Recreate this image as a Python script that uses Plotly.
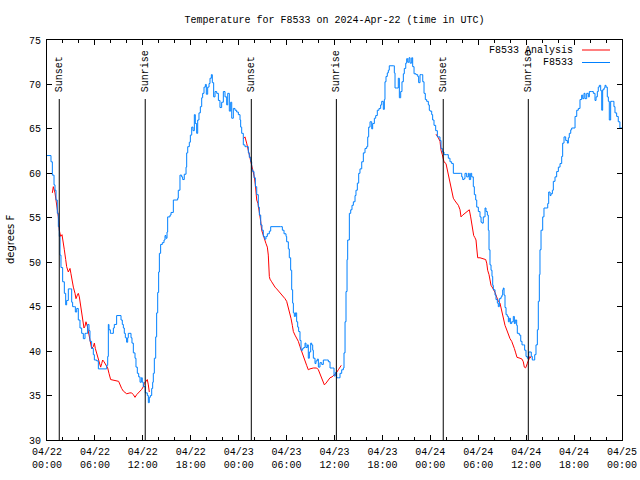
import pandas as pd
import plotly.graph_objects as go

BASE = pd.Timestamp("2024-04-22 00:00")

# hours since 2024-04-22 00:00 UTC, temperature in deg F
obs_hours = [0.0, 0.50, 0.67, 0.88, 1.0, 1.13, 1.29, 1.42, 1.54, 1.63, 1.75, 1.96, 2.17, 2.34, 2.46, 2.67, 2.97,
             3.09, 3.21, 3.42, 3.55, 3.72, 3.92, 4.13, 4.34, 4.55, 4.76, 4.97, 5.09, 5.26, 5.38, 5.59, 5.80,
             5.93, 6.22, 6.43, 7.39, 7.47, 7.60, 7.68, 7.76, 7.93, 8.10, 8.31, 8.43, 8.64, 8.72, 9.14, 9.27,
             9.43, 9.56, 9.68, 9.81, 9.97, 10.10, 10.18, 10.39, 10.52, 10.64, 10.81, 11.02, 11.14, 11.31,
             11.48, 11.65, 11.81, 11.93, 12.06, 12.31, 12.56, 12.69, 12.81, 12.94, 13.11, 13.23, 13.31,
             13.44, 13.61, 13.73, 13.86, 13.98, 14.07, 14.23, 14.44, 14.65, 14.78, 14.90, 15.03, 15.11,
             15.40, 15.53, 15.82, 16.36, 16.44, 16.65, 16.86, 16.99, 17.19, 17.41, 17.49, 17.62, 17.82,
             17.95, 18.12, 18.28, 18.45, 18.57, 18.74, 18.87, 19.03, 19.20, 19.37, 19.49, 19.66, 19.83,
             19.95, 20.12, 20.29, 20.41, 20.58, 20.70, 20.87, 21.04, 21.25, 21.46, 21.66, 21.87, 22.08,
             22.29, 22.50, 22.63, 22.83, 23.00, 23.13, 23.33, 23.54, 23.75, 23.96, 24.17, 24.25, 24.38,
             24.58, 24.79, 25.0, 25.21, 25.33, 25.51, 25.63, 25.76, 25.92, 26.09, 26.26, 26.46, 26.59,
             26.76, 26.92, 27.09, 27.26, 27.42, 27.59, 27.84, 28.01, 29.26, 29.47, 29.68, 29.93, 30.01,
             30.22, 30.34, 30.51, 30.64, 30.76, 30.85, 30.97, 31.10, 31.26, 31.39, 31.51, 31.68, 31.81,
             32.01, 32.14, 32.31, 32.43, 32.60, 32.72, 32.85, 33.02, 33.14, 33.27, 33.35, 33.56, 33.68,
             33.85, 33.98, 34.18, 34.40, 34.60, 35.02, 35.23, 35.44, 35.77, 35.94, 36.10, 36.27, 36.52,
             36.69, 36.90, 37.11, 37.19, 37.32, 37.44, 37.57, 37.65, 37.86, 38.03, 38.19, 38.36, 38.57,
             38.69, 38.86, 39.03, 39.19, 39.41, 39.61, 39.82, 40.03, 40.16, 40.28, 40.45, 40.66, 40.78,
             40.99, 41.16, 41.36, 41.57, 41.78, 41.91, 42.11, 42.24, 42.32, 42.45, 42.61, 42.74, 42.86,
             43.36, 43.49, 43.58, 43.79, 43.99, 44.12, 44.29, 44.45, 44.62, 44.74, 44.92, 45.04, 45.17,
             45.33, 45.46, 45.67, 45.79, 45.96, 46.21, 46.42, 46.54, 46.71, 46.92, 47.05, 47.21, 47.37,
             47.54, 47.75, 47.87, 47.96, 48.17, 48.29, 48.46, 48.67, 48.88, 49.21, 49.34, 49.50, 49.71,
             50.05, 50.25, 50.46, 50.67, 50.88, 51.80, 51.93, 52.05, 52.22, 52.34, 52.55, 52.76, 52.88,
             53.05, 53.18, 53.38, 53.51, 53.68, 53.81, 54.01, 54.22, 54.35, 54.47, 54.63, 54.85, 54.97,
             55.14, 55.26, 55.35, 55.47, 55.60, 55.72, 55.81, 55.89, 56.10, 56.22, 56.39, 56.51, 56.64,
             56.85, 56.97, 57.06, 57.14, 57.23, 57.35, 57.48, 57.64, 57.77, 57.89, 58.02, 58.19, 58.39,
             58.52, 58.64, 58.81, 58.89, 59.14, 59.32, 59.48, 59.64, 59.81, 59.98, 60.14, 60.32, 60.48,
             60.64, 60.77, 60.94, 61.07, 61.23, 61.40, 61.52, 61.65, 61.73, 61.86, 62.07, 62.23, 62.48,
             62.70, 62.82, 62.99, 63.11, 63.28, 63.40, 63.61, 63.82, 64.03, 64.24, 64.45, 64.57, 64.74,
             64.95, 65.16, 65.28, 65.40, 65.58, 65.70, 65.99, 66.12, 66.33, 66.53, 66.74, 66.95, 67.08,
             67.24, 67.37, 67.58, 67.78, 67.91, 68.21, 68.41, 68.62, 68.75, 68.91, 69.03, 69.16, 69.33,
             69.46, 69.58, 69.75, 69.87, 70.00, 70.16, 70.29, 70.41, 70.58, 70.83, 70.99, 71.12, 71.33,
             71.53, 71.74, 72.0]
obs_temp = [62.0, 61.3, 59.8, 58.7, 58.1, 57.0, 55.5, 54.0, 52.9, 50.8, 49.4, 47.8, 46.5, 45.2, 45.7, 47.0, 47.0,
            45.5, 45.0, 45.0, 44.4, 44.8, 43.5, 42.6, 42.0, 41.4, 42.0, 42.0, 43.0, 42.3, 41.1, 40.3, 39.6,
            39.0, 38.9, 38.0, 38.0, 38.4, 39.4, 43.0, 42.4, 42.0, 42.0, 42.6, 43.0, 43.0, 44.0, 44.0, 43.5,
            43.0, 42.6, 42.0, 41.5, 41.0, 41.5, 42.0, 42.0, 41.5, 40.9, 39.8, 39.2, 38.2, 37.5,
            37.1, 36.5, 37.0, 36.5, 36.0, 35.3, 35.0, 34.2, 34.8, 35.0, 35.8, 36.5, 37.5,
            39.2, 41.6, 44.3, 46.6, 48.9, 51.0, 52.0, 52.2, 52.5, 53.0, 52.7, 53.4, 55.1,
            55.3, 55.6, 57.0, 57.2, 58.1, 59.8, 59.6, 59.3, 59.9, 60.7, 62.3, 63.0, 63.5,
            64.3, 65.2, 64.8, 66.6, 65.6, 64.5, 66.0, 66.8, 67.5, 68.5, 69.0, 69.7, 70.0,
            68.9, 69.7, 70.1, 70.7, 71.1, 70.2, 68.6, 69.2, 69.0, 68.2, 67.4, 68.0, 69.2,
            68.6, 67.7, 69.0, 67.0, 68.0, 66.2, 67.3, 67.1, 66.9, 66.6, 66.0, 65.2, 64.5,
            63.2, 63.0, 63.0, 62.3, 61.8, 61.3, 60.4, 60.2, 59.5, 58.5, 57.6, 56.2, 55.3,
            54.2, 53.6, 52.9, 52.6, 52.9, 53.2, 53.5, 54.0, 54.0, 53.6, 53.2, 52.9, 52.3,
            51.5, 50.5, 49.1, 46.9, 45.4, 44.3, 43.9, 44.3, 43.3, 42.7, 42.2, 41.2, 40.1,
            40.3, 40.4, 40.9, 40.4, 40.7, 39.2, 39.9, 40.9, 40.7, 40.1, 39.2, 38.6, 38.9,
            39.1, 38.2, 38.7, 38.5, 39.0, 39.0, 38.8, 38.1, 38.1, 37.2, 37.6, 37.0, 37.0,
            37.5, 37.9, 38.1, 39.8, 43.3, 46.7, 50.3, 52.5, 55.5, 55.9, 56.4, 56.8, 57.5,
            58.1, 58.9, 60.0, 60.5, 61.3, 62.3, 62.8, 63.0, 64.1, 65.2, 65.8, 65.0, 65.6,
            66.2, 66.5, 67.1, 67.3, 67.7, 68.1, 67.2, 68.3, 70.3, 70.9, 71.3, 71.6, 72.1,
            72.1, 71.3, 69.6, 69.6, 70.7, 68.5, 69.2, 70.3, 71.2, 71.8, 72.4, 72.9, 72.5,
            73.0, 72.4, 73.0, 72.0, 71.2, 71.1, 70.9, 70.2, 71.1, 71.1, 70.3, 69.0, 68.3,
            68.1, 67.7, 67.1, 67.0, 66.6, 66.0, 65.4, 64.8, 64.1, 63.7, 62.8, 62.4, 62.1,
            62.1, 61.7, 61.3, 61.1, 60.0, 60.0, 59.6, 59.3, 59.4, 60.0, 59.6, 60.0, 59.3,
            60.0, 59.6, 58.5, 57.6, 57.0, 56.2, 55.7, 55.1, 54.5, 54.4, 55.1, 56.1, 55.7,
            55.3, 53.6, 51.4, 49.7, 49.1, 48.4, 47.4, 46.9, 46.3, 45.8, 45.4, 45.0, 45.9,
            46.1, 46.3, 46.9, 47.1, 46.3, 44.9, 44.1, 43.9, 43.3, 43.7, 43.1, 43.3, 43.9,
            43.1, 43.5, 42.9, 42.0, 41.8, 41.1, 40.7, 40.7, 40.1, 39.4, 39.2, 39.9, 39.9,
            39.4, 39.0, 39.0, 39.6, 40.7, 42.4, 45.6, 48.6, 51.4, 53.6, 55.1, 56.1, 56.1,
            56.6, 57.9, 57.5, 57.7, 58.1, 59.1, 59.6, 60.2, 60.7, 61.1, 61.9, 63.4, 64.1,
            63.7, 63.4, 64.0, 64.5, 64.9, 65.1, 65.1, 66.4, 67.1, 67.3, 68.3, 68.8, 68.4,
            69.0, 68.4, 69.0, 68.6, 69.2, 69.2, 69.0, 68.2, 68.6, 69.2, 69.7, 69.9, 69.3,
            67.1, 69.4, 69.6, 69.9, 69.7, 68.6, 68.1, 66.0, 68.1, 68.1, 67.5, 66.8, 66.4,
            65.8, 65.1, 65.1]

# analysis series (None = gap between nightly runs)
ana_hours = [0.67, 0.79, 1.0, 1.21, 1.42, 1.54, 1.71, 1.88, 2.04, 2.17, 2.34, 2.46, 2.67, 2.88, 3.0, 3.13,
             3.30, 3.51, 3.63, 3.80, 3.92, 4.05, 4.21, 4.34, 4.46, 4.63, 4.76, 4.88, 5.05, 5.17, 5.38,
             5.59, 5.80, 5.93, 6.05, 6.22, 6.39, 6.55, 6.72, 6.85, 6.97, 7.14, 7.39, 7.60, 7.76, 7.97,
             8.97, 9.14, 9.35, 9.56, 9.77, 9.98, 10.39, 10.60, 10.81, 11.02, 11.23, 11.44, 11.65, 11.86,
             12.06, 12.18, 12.40, 12.56, 12.69, 12.81, None,
             24.58, 24.79, 25.0, 25.13, 25.33, 25.51, 25.67, 25.83, 25.96, 26.09, 26.26, 26.42, 26.59,
             26.76, 26.88, 27.01, 27.09, 27.30, 27.42, 27.59, 27.71, 27.84, 27.92, 28.13, 28.34, 28.55,
             28.76, 28.97, 29.18, 29.39, 29.59, 29.80, 30.01, 30.22, 30.43, 30.55, 30.72, 30.85, 31.05,
             31.26, 31.47, 31.68, 31.89, 32.10, 32.31, 32.51, 32.72, 32.93, 33.35, 33.77, 33.98, 34.18,
             34.40, 34.60, 34.73, 34.94, 35.23, 35.44, 35.69, 35.94, 36.19, 36.48, 36.69, 36.85, None,
             48.71, 48.88, 49.0, 49.21, 49.34, 49.50, 49.71, 49.96, 50.13, 50.25, 50.46, 50.67, 50.88,
             51.09, 51.30, 51.51, 51.72, 51.84, 52.05, 52.34, 52.55, 52.88, 53.05, 53.18, 53.30, 53.43,
             53.56, 53.72, 53.81, 53.93, 54.22, 54.63, 54.93, 55.06, 55.18, 55.35, 55.47, 55.60, 55.81,
             55.97, 56.10, 56.22, 56.39, 56.51, 56.72, 56.85, 57.01, 57.14, 57.35, 57.48, 57.64, 57.81,
             57.98, 58.19, 58.39, 58.52, 58.69, 58.85, 59.23, 59.48, 59.64, 59.77, 59.89, 59.98, 60.14,
             60.27, 60.48, 60.61]
ana_temp = [57.8, 58.5, 57.8, 56.6, 55.1, 53.6, 52.9, 53.1, 52.3, 51.4, 50.3, 49.5, 48.9, 49.3, 48.7, 48.0,
            47.2, 46.5, 45.9, 46.3, 46.5, 46.1, 45.0, 44.3, 43.3, 42.6, 42.8, 43.3, 42.8, 42.2, 41.2,
            40.3, 40.5, 40.9, 40.3, 39.8, 39.2, 38.6, 38.2, 38.6, 39.0, 38.8, 38.4, 38.1, 37.5, 36.8,
            36.6, 36.2, 35.8, 35.5, 35.3, 35.2, 35.3, 35.3, 35.1, 34.8, 35.1, 35.3, 35.4, 35.7,
            36.0, 36.4, 36.6, 36.8, 36.2, 35.4, None,
            63.9, 64.1, 63.4, 62.9, 61.9, 61.1, 60.7, 60.2, 59.6, 58.7, 57.0, 56.6, 55.7,
            54.6, 53.6, 53.2, 53.0, 52.5, 52.1, 51.7, 50.8, 48.4, 48.1, 47.8, 47.4, 47.2,
            47.0, 46.8, 46.5, 46.3, 46.1, 45.9, 45.6, 44.9, 44.3, 43.7, 42.9, 42.2, 41.8,
            41.5, 41.1, 40.5, 39.9, 39.4, 38.8, 38.4, 37.9, 38.0, 38.1, 38.1, 37.9, 37.5,
            37.0, 36.6, 36.2, 36.4, 36.8, 37.0, 37.1, 37.3, 37.5, 37.9, 38.2, 38.4, None,
            64.4, 64.2, 64.0, 63.6, 62.6, 62.1, 61.3, 61.1, 60.4, 59.6, 58.9, 57.8, 57.2,
            56.9, 56.6, 56.4, 55.9, 55.1, 55.3, 55.5, 55.7, 55.9, 55.1, 54.4, 53.6, 53.0,
            52.8, 52.5, 51.6, 50.5, 50.5, 50.4, 50.3, 49.9, 49.1, 48.6, 48.0, 47.4, 47.1,
            46.9, 46.6, 46.3, 45.9, 45.6, 45.4, 44.8, 44.3, 43.7, 42.9, 42.6, 42.2, 42.0,
            41.4, 41.1, 40.7, 40.3, 39.8, 39.3, 39.2, 39.1, 38.8, 38.2, 38.1, 38.2, 38.6,
            39.0, 39.4, 39.2]

sunset_times = ["2024-04-22 01:32", "2024-04-23 01:35", "2024-04-24 01:37"]
sunrise_times = ["2024-04-22 12:18", "2024-04-23 12:14", "2024-04-24 12:16"]

series_names = ["F8533 Analysis", "F8533"]
series_colors = ["#ff0000", "#0080ff"]

TITLE = "Temperature for F8533 on 2024-Apr-22 (time in UTC)"
Y_LABEL = "degrees F"


def to_time(hours):
    return [None if h is None else BASE + pd.Timedelta(hours=h) for h in hours]


MONO = "Liberation Mono, DejaVu Sans Mono, monospace"
L, R, T, B = 47, 18, 40, 40
PW, PH = 640 - L - R, 480 - T - B

fig = go.Figure()
fig.add_trace(go.Scatter(x=to_time(ana_hours), y=ana_temp, mode="lines", name=series_names[0],
                         line=dict(color=series_colors[0], width=1), connectgaps=False,
                         showlegend=False))
fig.add_trace(go.Scatter(x=to_time(obs_hours), y=obs_temp, mode="lines", name=series_names[1],
                         line=dict(color=series_colors[1], width=1, shape="hv"),
                         showlegend=False))

line_top = (440 - 99) / PH
label_bottom = (440 - 93) / PH
for label, times in (("Sunset", sunset_times), ("Sunrise", sunrise_times)):
    for t in times:
        fig.add_shape(type="line", xref="x", yref="paper", x0=t, x1=t, y0=0, y1=line_top,
                      line=dict(color="black", width=1))
        fig.add_annotation(x=t, y=label_bottom, xref="x", yref="paper", text=label,
                           textangle=-90, showarrow=False, xanchor="center", yanchor="bottom",
                           xshift=1, borderpad=0, font=dict(family=MONO, size=10, color="black"))

# gnuplot-style legend: text right-aligned, sample line to its right
legend_rows = [(440 - 50) / PH, (440 - 62.5) / PH]
for name, color, yy in zip(series_names, series_colors, legend_rows):
    fig.add_annotation(x=(574 - L) / PW, y=yy, xref="paper", yref="paper", text=name, showarrow=False,
                       xanchor="right", yanchor="middle", borderpad=0,
                       font=dict(family=MONO, size=10, color="black"))
    fig.add_shape(type="line", xref="paper", yref="paper", x0=(582 - L) / PW, x1=(610 - L) / PW,
                  y0=yy, y1=yy, line=dict(color=color, width=1))

# y-axis label
fig.add_annotation(x=(10 - L) / PW, y=(440 - 240) / PH, xref="paper", yref="paper", text=Y_LABEL,
                   textangle=-90, showarrow=False, xanchor="center", yanchor="middle",
                   font=dict(family="DejaVu Sans, sans-serif", size=10, color="black"))

fig.update_layout(
    width=640, height=480,
    margin=dict(l=L, r=R, t=T, b=B, autoexpand=False),
    paper_bgcolor="white", plot_bgcolor="white",
    title=dict(text=TITLE, x=(L + PW / 2) / 640, xanchor="center", y=1 - 19 / 480,
               yanchor="middle", font=dict(family=MONO, size=10, color="black")),
    font=dict(family=MONO, size=10, color="black"),
    showlegend=False,
)
fig.update_xaxes(
    type="date", automargin=False,
    range=[BASE, BASE + pd.Timedelta(hours=72)],
    tick0=BASE, dtick=6 * 3600 * 1000,
    tickformat="%m/%d<br>%H:%M",
    ticks="inside", ticklen=5, tickcolor="black", tickwidth=1,
    ticklabelstandoff=2,
    minor=dict(dtick=2 * 3600 * 1000, tick0=BASE, ticks="inside", ticklen=3, tickcolor="black"),
    showline=True, linecolor="black", linewidth=1, mirror="allticks",
    showgrid=False, zeroline=False,
    tickfont=dict(family=MONO, size=10, color="black"),
)
fig.update_yaxes(
    range=[30, 75], dtick=5, tick0=30, automargin=False,
    ticks="inside", ticklen=5, tickcolor="black", tickwidth=1,
    ticklabelstandoff=3,
    showline=True, linecolor="black", linewidth=1, mirror="allticks",
    showgrid=False, zeroline=False,
    tickfont=dict(family=MONO, size=10, color="black"),
)

fig.write_html("out.html", config={"displayModeBar": False},
               post_script="document.body.style.margin='0';document.body.style.overflow='hidden';")
